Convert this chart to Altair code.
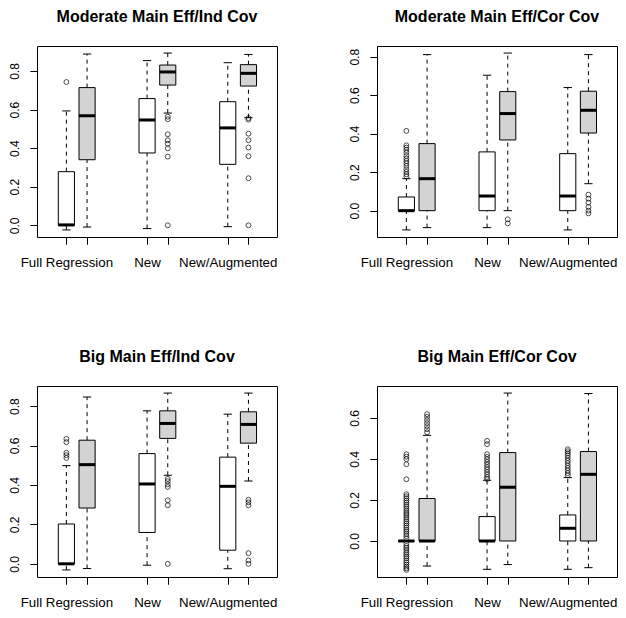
import altair as alt
import pandas as pd

panel_titles = ["Moderate Main Eff/Ind Cov", "Moderate Main Eff/Cor Cov",
                "Big Main Eff/Ind Cov", "Big Main Eff/Cor Cov"]
groups = ["Full Regression", "New", "New/Augmented"]
series = ["first", "second"]

# (whisker low, q1, median, q3, whisker high); order: FR a, FR b, New a, New b, N/A a, N/A b
mod_ind_stats = [
    (-0.024, 0.0, 0.002, 0.278, 0.593),
    (-0.009, 0.340, 0.568, 0.714, 0.888),
    (-0.017, 0.375, 0.546, 0.657, 0.854),
    (0.582, 0.727, 0.795, 0.831, 0.893),
    (-0.007, 0.316, 0.505, 0.641, 0.843),
    (0.558, 0.722, 0.788, 0.833, 0.886),
]
mod_ind_out = [
    [0.743],
    [],
    [],
    [0.563, 0.550, 0.472, 0.441, 0.423, 0.399, 0.356, 0.0],
    [],
    [0.556, 0.548, 0.475, 0.441, 0.403, 0.358, 0.244, 0.0],
]
mod_ind_ticks = [0.0, 0.2, 0.4, 0.6, 0.8]

mod_cor_stats = [
    (-0.100, 0.0, 0.0, 0.071, 0.166),
    (-0.088, 0.0, 0.166, 0.348, 0.810),
    (-0.088, 0.0, 0.076, 0.305, 0.703),
    (0.0, 0.367, 0.504, 0.618, 0.818),
    (-0.100, 0.0, 0.076, 0.296, 0.639),
    (0.140, 0.403, 0.521, 0.620, 0.810),
]
mod_cor_out = [
    [0.414, 0.339, 0.327, 0.315, 0.301, 0.284, 0.270, 0.258, 0.246, 0.232, 0.215, 0.201, 0.189, 0.178],
    [],
    [],
    [-0.045, -0.066],
    [],
    [0.083, 0.062, 0.042, 0.019, 0.0, -0.014],
]
mod_cor_ticks = [0.0, 0.2, 0.4, 0.6, 0.8]

big_ind_stats = [
    (-0.031, 0.0, 0.0, 0.202, 0.498),
    (-0.024, 0.283, 0.503, 0.627, 0.846),
    (-0.007, 0.159, 0.405, 0.559, 0.776),
    (0.449, 0.636, 0.712, 0.776, 0.866),
    (-0.025, 0.069, 0.393, 0.541, 0.759),
    (0.420, 0.612, 0.707, 0.771, 0.866),
]
big_ind_out = [
    [0.634, 0.617, 0.563, 0.551, 0.537],
    [],
    [],
    [0.431, 0.419, 0.403, 0.390, 0.322, 0.297, 0.0],
    [],
    [0.325, 0.312, 0.297, 0.054, 0.017, 0.0],
]
big_ind_ticks = [0.0, 0.2, 0.4, 0.6, 0.8]

big_cor_stats = [
    (0.0, 0.0, 0.0, 0.0, 0.0),
    (-0.122, 0.0, 0.0, 0.207, 0.515),
    (-0.138, 0.0, 0.0, 0.119, 0.296),
    (-0.115, 0.0, 0.262, 0.431, 0.721),
    (-0.138, 0.0, 0.062, 0.127, 0.309),
    (-0.130, 0.0, 0.325, 0.436, 0.719),
]
big_cor_out = [
    [0.423, 0.411, 0.399, 0.374, 0.301, 0.228, 0.218, 0.208, 0.197, 0.187, 0.177, 0.168,
     0.157, 0.146, 0.136, 0.127, 0.116, 0.106, 0.096, 0.086, 0.075, 0.065, 0.055, 0.046,
     0.035, 0.024, 0.012, -0.012, -0.024, -0.034, -0.044, -0.055, -0.065, -0.075, -0.084,
     -0.095, -0.105, -0.115, -0.125, -0.133, -0.141],
    [0.618, 0.605, 0.590, 0.575, 0.560, 0.545, 0.530],
    [0.488, 0.472, 0.423, 0.410, 0.398, 0.385, 0.372, 0.360, 0.348, 0.336, 0.324, 0.312, 0.302],
    [],
    [0.447, 0.437, 0.427, 0.417, 0.405, 0.392, 0.380, 0.367, 0.355, 0.343, 0.331, 0.320],
    [],
]
big_cor_ticks = [0.0, 0.2, 0.4, 0.6]

GAP = 3.9
HALF = 0.39
STAPLE = 0.2
FONT = "Liberation Sans"

positions = [g * GAP + s for g in range(len(groups)) for s in range(len(series))]
x_domain = [min(positions) - 1.42, max(positions) + 1.38]

label_expr = ""
for g, name in enumerate(groups):
    label_expr += f"abs(datum.value - {g * GAP:.3f}) < 0.01 ? '{name}' : "
label_expr += "''"

x_axis = alt.Axis(values=positions, labelExpr=label_expr, title=None, domain=False, grid=False,
                  tickSize=7.2, tickColor="black", labelColor="black", labelFont=FONT,
                  labelFontSize=13.3, labelPadding=11.3, labelOverlap=False, labelFlush=False,
                  labelBaseline="top")
x_scale = alt.Scale(domain=x_domain, nice=False, zero=False)


def make_panel(title, stats, outs, ticks):
    rows = []
    out_rows = []
    for i, (lo, q1, md, q3, hi) in enumerate(stats):
        g, s = divmod(i, 2)
        p = g * GAP + s
        rows.append(dict(pos=p, series=series[s], lo=lo, q1=q1, med=md, q3=q3, hi=hi))
        for v in outs[i]:
            out_rows.append(dict(pos=p, value=v))
    box_df = pd.DataFrame(rows)
    out_df = pd.DataFrame(out_rows, columns=["pos", "value"])

    vals = [v for st in stats for v in (st[0], st[4])] + [v for o in outs for v in o]
    lo_v, hi_v = min(vals), max(vals)
    ext = 0.04 * (hi_v - lo_v)
    y_scale = alt.Scale(domain=[lo_v - ext, hi_v + ext], nice=False, zero=False)
    y_axis = alt.Axis(values=ticks, format=".1f", title=None, domain=False, grid=False,
                      tickSize=7.2, tickColor="black", labelColor="black", labelFont=FONT,
                      labelFontSize=12, labelAngle=270, labelAlign="center",
                      labelBaseline="bottom", labelPadding=8.7)

    base = alt.Chart(box_df).transform_calculate(
        x1=f"datum.pos - {HALF}", x2=f"datum.pos + {HALF}",
        s1=f"datum.pos - {STAPLE}", s2=f"datum.pos + {STAPLE}",
    )
    X = lambda f: alt.X(f, scale=x_scale, axis=x_axis)
    Y = lambda f: alt.Y(f, scale=y_scale, axis=y_axis)

    whisk_lo = base.mark_rule(color="black", strokeWidth=1, strokeDash=[4, 4]).encode(
        x=X("pos:Q"), y=Y("lo:Q"), y2="q1:Q")
    whisk_hi = base.mark_rule(color="black", strokeWidth=1, strokeDash=[4, 4]).encode(
        x=X("pos:Q"), y=Y("q3:Q"), y2="hi:Q")
    staples = base.transform_fold(["lo", "hi"], as_=["k", "v"]).mark_rule(
        color="black", strokeWidth=1).encode(x=X("s1:Q"), x2="s2:Q", y=Y("v:Q"))
    boxes = base.mark_rect(stroke="black", strokeWidth=1).encode(
        x=X("x1:Q"), x2="x2:Q", y=Y("q1:Q"), y2="q3:Q",
        fill=alt.Fill("series:N", scale=alt.Scale(domain=series, range=["white", "#d3d3d3"]),
                      legend=None))
    medians = base.mark_rule(color="black", strokeWidth=3).encode(
        x=X("x1:Q"), x2="x2:Q", y=Y("med:Q"))
    points = alt.Chart(out_df).mark_point(shape="circle", filled=False, size=24,
                                          color="black", strokeWidth=1).encode(
        x=X("pos:Q"), y=Y("value:Q"))

    return alt.layer(whisk_lo, whisk_hi, staples, boxes, medians, points).properties(
        width=240, height=191,
        title=alt.TitleParams(title, fontSize=16, fontWeight="bold", font=FONT,
                              anchor="middle", frame="group", baseline="alphabetic",
                              offset=8.3, color="black"))


p1 = make_panel(panel_titles[0], mod_ind_stats, mod_ind_out, mod_ind_ticks)
p2 = make_panel(panel_titles[1], mod_cor_stats, mod_cor_out, mod_cor_ticks)
p3 = make_panel(panel_titles[2], big_ind_stats, big_ind_out, big_ind_ticks)
p4 = make_panel(panel_titles[3], big_cor_stats, big_cor_out, big_cor_ticks)

chart = alt.concat(p1, p2, p3, p4, columns=2, spacing={"row": 149, "column": 100},
                   bounds="flush").properties(
    padding={"left": -1.0, "top": 0, "right": 0, "bottom": 0},
    background="white").configure_view(stroke="black", strokeWidth=1)

chart.save("out.html", embed_options={"renderer": "svg", "actions": False})
